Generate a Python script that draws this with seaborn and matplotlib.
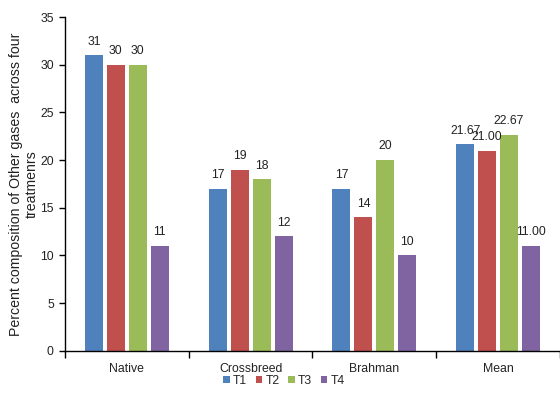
import matplotlib
matplotlib.use("Agg")
import matplotlib.pyplot as plt
import seaborn as sns
import pandas as pd
from matplotlib.ticker import FixedLocator, NullFormatter
from matplotlib.patches import Patch

categories = ["Native", "Crossbreed", "Brahman", "Mean"]
treatments = ["T1", "T2", "T3", "T4"]
t1 = [31, 17, 17, 21.67]
t2 = [30, 19, 14, 21.00]
t3 = [30, 18, 20, 22.67]
t4 = [11, 12, 10, 11.00]
colors = ["#4F81BD", "#C0504D", "#9BBB59", "#8064A2"]

rows = []
for tr, vals in zip(treatments, [t1, t2, t3, t4]):
    for cat, v in zip(categories, vals):
        rows.append({"Group": cat, "Treatment": tr, "Value": v})
df = pd.DataFrame(rows)

sns.set_theme(style="white")
plt.rcParams["font.family"] = ["Liberation Sans", "DejaVu Sans"]

small = 8.8
text_color = "#222222"

fig = plt.figure(figsize=(5.6, 4.07), dpi=100)
ax = fig.add_axes([0.116, 0.138, 0.884, 0.82])

sns.barplot(data=df, x="Group", y="Value", hue="Treatment", order=categories,
            hue_order=treatments, palette=colors, width=0.71, gap=0.18,
            saturation=1, ax=ax, legend=False, errorbar=None, linewidth=0)

# value labels: integers for breeds, two decimals for the mean group
for container, vals in zip(ax.containers, [t1, t2, t3, t4]):
    labels = [f"{v:.0f}" if cat != "Mean" else f"{v:.2f}" for cat, v in zip(categories, vals)]
    ax.bar_label(container, labels=labels, padding=5.5, fontsize=small, color=text_color)

ax.set_ylim(0, 35)
ax.set_yticks(range(0, 36, 5))
ax.set_xlim(-0.5, 3.5)

# category labels at centres, tick marks at the group boundaries
ax.xaxis.set_major_locator(FixedLocator([-0.5, 0.5, 1.5, 2.5, 3.5]))
ax.xaxis.set_major_formatter(NullFormatter())
ax.xaxis.set_minor_locator(FixedLocator([0, 1, 2, 3]))
ax.set_xticklabels(categories, minor=True)
ax.tick_params(axis="x", which="major", direction="out", length=5, width=1, color="black", bottom=True)
ax.tick_params(axis="x", which="minor", length=0, pad=9, labelsize=small, labelcolor=text_color)
ax.tick_params(axis="y", direction="out", length=4, width=1, color="black", left=True, pad=4,
               labelsize=small, labelcolor=text_color)

for side in ["top", "right"]:
    ax.spines[side].set_visible(False)
for side in ["left", "bottom"]:
    ax.spines[side].set_color("black")
    ax.spines[side].set_linewidth(1)

ax.set_xlabel("")
ax.set_ylabel("Percent composition of Other gases  across four\ntreatmenrs",
              fontsize=10.2, color=text_color, va="center")
ax.yaxis.set_label_coords(-0.083, 0.5)

handles = [Patch(facecolor=c, edgecolor="none") for c in colors]
fig.legend(handles, treatments, loc="center", bbox_to_anchor=(0.507, 0.065), ncol=4,
           frameon=False, handlelength=0.55, handleheight=0.55,
           handletextpad=0.25, columnspacing=0.7, fontsize=small)

fig.savefig("out.png", dpi=100)
